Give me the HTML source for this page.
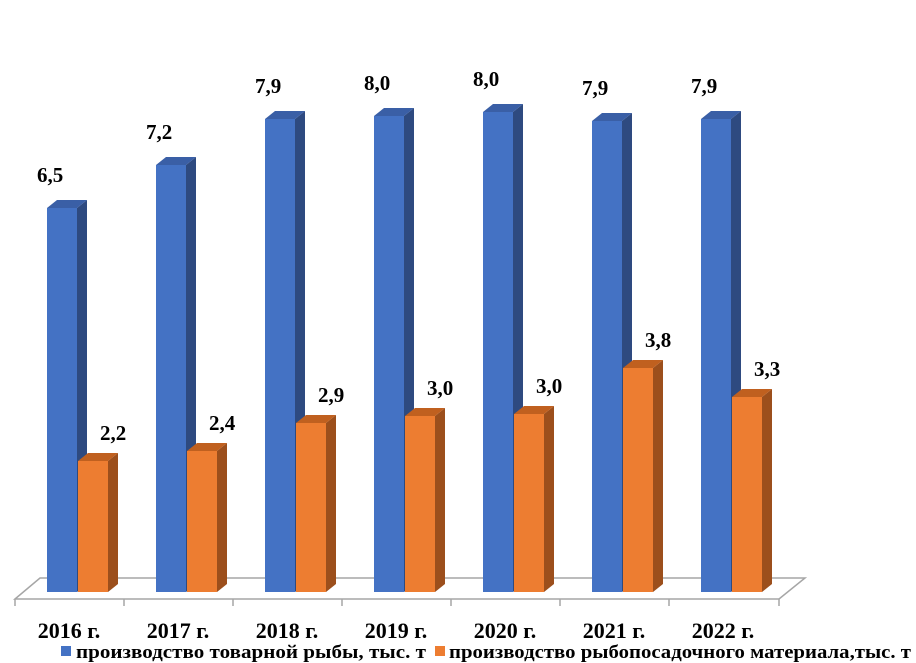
<!DOCTYPE html>
<html><head><meta charset="utf-8"><style>body{margin:0;background:#fff}svg{display:block}text{font-family:"Liberation Serif",serif;font-weight:bold}</style></head><body>
<svg width="916" height="663" viewBox="0 0 916 663" xmlns="http://www.w3.org/2000/svg">
<polygon points="15,599 40,578 805,578 779,599" fill="none" stroke="#a6a6a6" stroke-width="1.5"/>
<g stroke="#a6a6a6" stroke-width="1.5">
<line x1="15" y1="599" x2="15" y2="606"/><line x1="124" y1="599" x2="124" y2="606"/><line x1="233" y1="599" x2="233" y2="606"/><line x1="342" y1="599" x2="342" y2="606"/><line x1="451" y1="599" x2="451" y2="606"/><line x1="560" y1="599" x2="560" y2="606"/><line x1="669" y1="599" x2="669" y2="606"/><line x1="779" y1="599" x2="779" y2="606"/>
</g>
<g>
<polygon points="77,208 87,200 87,584 77,592" fill="#2e4a80"/><polygon points="47,208 57,200 87,200 77,208" fill="#3a5fa6"/><rect x="47" y="208" width="30" height="384" fill="#4472c4"/>
<polygon points="186,165 196,157 196,584 186,592" fill="#2e4a80"/><polygon points="156,165 166,157 196,157 186,165" fill="#3a5fa6"/><rect x="156" y="165" width="30" height="427" fill="#4472c4"/>
<polygon points="295,119 305,111 305,584 295,592" fill="#2e4a80"/><polygon points="265,119 275,111 305,111 295,119" fill="#3a5fa6"/><rect x="265" y="119" width="30" height="473" fill="#4472c4"/>
<polygon points="404,116 414,108 414,584 404,592" fill="#2e4a80"/><polygon points="374,116 384,108 414,108 404,116" fill="#3a5fa6"/><rect x="374" y="116" width="30" height="476" fill="#4472c4"/>
<polygon points="513,112 523,104 523,584 513,592" fill="#2e4a80"/><polygon points="483,112 493,104 523,104 513,112" fill="#3a5fa6"/><rect x="483" y="112" width="30" height="480" fill="#4472c4"/>
<polygon points="622,121 632,113 632,584 622,592" fill="#2e4a80"/><polygon points="592,121 602,113 632,113 622,121" fill="#3a5fa6"/><rect x="592" y="121" width="30" height="471" fill="#4472c4"/>
<polygon points="731,119 741,111 741,584 731,592" fill="#2e4a80"/><polygon points="701,119 711,111 741,111 731,119" fill="#3a5fa6"/><rect x="701" y="119" width="30" height="473" fill="#4472c4"/>
</g>
<g>
<polygon points="108,461 118,453 118,584 108,592" fill="#9c4f1c"/><polygon points="78,461 88,453 118,453 108,461" fill="#c0601f"/><rect x="78" y="461" width="30" height="131" fill="#ed7d31"/>
<polygon points="217,451 227,443 227,584 217,592" fill="#9c4f1c"/><polygon points="187,451 197,443 227,443 217,451" fill="#c0601f"/><rect x="187" y="451" width="30" height="141" fill="#ed7d31"/>
<polygon points="326,423 336,415 336,584 326,592" fill="#9c4f1c"/><polygon points="296,423 306,415 336,415 326,423" fill="#c0601f"/><rect x="296" y="423" width="30" height="169" fill="#ed7d31"/>
<polygon points="435,416 445,408 445,584 435,592" fill="#9c4f1c"/><polygon points="405,416 415,408 445,408 435,416" fill="#c0601f"/><rect x="405" y="416" width="30" height="176" fill="#ed7d31"/>
<polygon points="544,414 554,406 554,584 544,592" fill="#9c4f1c"/><polygon points="514,414 524,406 554,406 544,414" fill="#c0601f"/><rect x="514" y="414" width="30" height="178" fill="#ed7d31"/>
<polygon points="653,368 663,360 663,584 653,592" fill="#9c4f1c"/><polygon points="623,368 633,360 663,360 653,368" fill="#c0601f"/><rect x="623" y="368" width="30" height="224" fill="#ed7d31"/>
<polygon points="762,397 772,389 772,584 762,592" fill="#9c4f1c"/><polygon points="732,397 742,389 772,389 762,397" fill="#c0601f"/><rect x="732" y="397" width="30" height="195" fill="#ed7d31"/>
</g>
<g font-size="21" fill="#000">
<text x="37" y="182">6,5</text><text x="146" y="139">7,2</text><text x="255" y="93">7,9</text><text x="364" y="90">8,0</text><text x="473" y="86">8,0</text><text x="582" y="95">7,9</text><text x="691" y="93">7,9</text>
<text x="100" y="440">2,2</text><text x="209" y="430">2,4</text><text x="318" y="402">2,9</text><text x="427" y="395">3,0</text><text x="536" y="393">3,0</text><text x="645" y="347">3,8</text><text x="754" y="376">3,3</text>
</g>
<g font-size="22" text-anchor="middle" fill="#000">
<text x="69" y="638">2016 г.</text><text x="178" y="638">2017 г.</text><text x="287" y="638">2018 г.</text><text x="396" y="638">2019 г.</text><text x="505" y="638">2020 г.</text><text x="614" y="638">2021 г.</text><text x="723" y="638">2022 г.</text>
</g>
<rect x="61" y="646" width="10" height="10" fill="#4472c4"/>
<text x="76" y="658" font-size="19" textLength="350" lengthAdjust="spacingAndGlyphs">производство товарной рыбы, тыс. т</text>
<rect x="435" y="646" width="10" height="10" fill="#ed7d31"/>
<text x="449" y="658" font-size="19" textLength="462" lengthAdjust="spacingAndGlyphs">производство рыбопосадочного материала,тыс. т</text>
</svg>
</body></html>
